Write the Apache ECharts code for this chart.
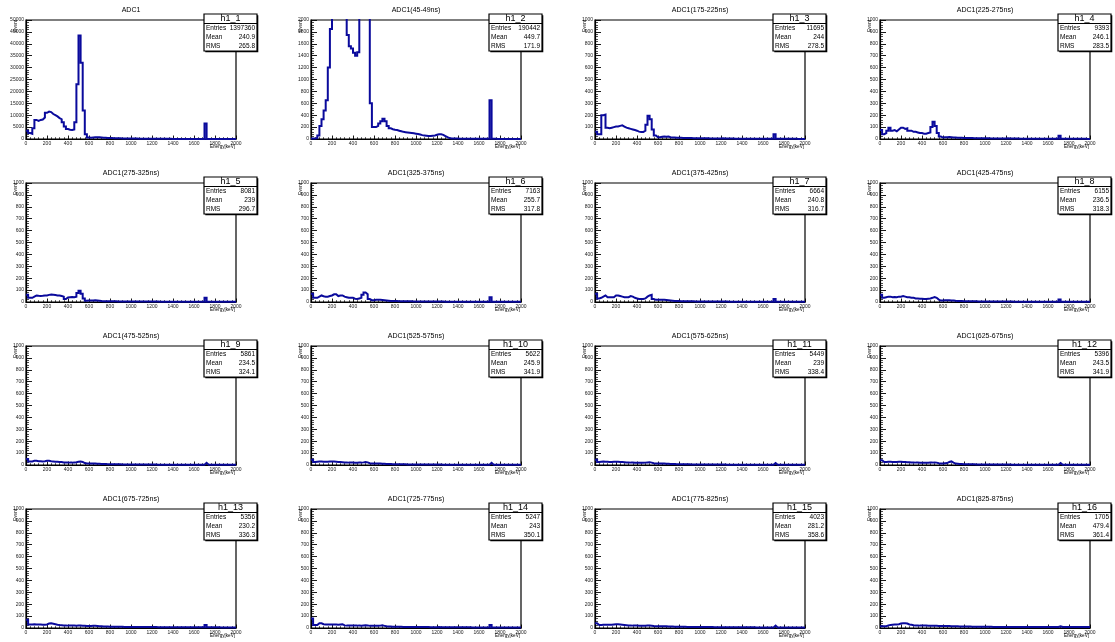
<!DOCTYPE html>
<html>
<head>
<meta charset="utf-8">
<script src="https://cdn.jsdelivr.net/npm/echarts@6/dist/echarts.min.js"></script>
<style>
  html, body { margin: 0; padding: 0; background: #fff; }
  #c { width: 1115px; height: 642px; }
</style>
</head>
<body>
<div id="c"></div>
<script>
// Energy spectra of ADC1 in successive time windows, 20 keV bins from 0 to 2000 keV.
const binWidth = 20;
const xMax = 2000;

const titles = [
  'ADC1', 'ADC1(45-49ns)', 'ADC1(175-225ns)', 'ADC1(225-275ns)',
  'ADC1(275-325ns)', 'ADC1(325-375ns)', 'ADC1(375-425ns)', 'ADC1(425-475ns)',
  'ADC1(475-525ns)', 'ADC1(525-575ns)', 'ADC1(575-625ns)', 'ADC1(625-675ns)',
  'ADC1(675-725ns)', 'ADC1(725-775ns)', 'ADC1(775-825ns)', 'ADC1(825-875ns)'
];
const histNames = ['h1_1','h1_2','h1_3','h1_4','h1_5','h1_6','h1_7','h1_8',
                   'h1_9','h1_10','h1_11','h1_12','h1_13','h1_14','h1_15','h1_16'];
const entries = ['1397360','190442','11695','9393','8081','7163','6664','6155',
                 '5861','5622','5449','5396','5356','5247','4023','1705'];
const means = ['240.9','449.7','244','246.1','239','255.7','240.8','236.5',
               '234.5','245.9','239','243.5','230.2','243','281.2','479.4'];
const rmsValues = ['265.8','171.9','278.5','283.5','296.7','317.8','316.7','318.3',
                   '324.1','341.9','338.4','341.9','336.3','350.1','358.6','361.4'];
const yMax = [50000, 2000, 1000, 1000, 1000, 1000, 1000, 1000,
              1000, 1000, 1000, 1000, 1000, 1000, 1000, 1000];

const h1_1 = [3500,2500,2200,4500,8000,7600,8000,8200,9000,11000,
  11500,11300,10500,10000,9500,8800,8300,7000,5200,4200,
  3900,3800,4000,7000,23000,43500,32000,12000,2000,600,
  500,600,700,750,700,650,550,500,450,400,
  380,350,320,300,280,260,240,220,200,190,
  180,170,160,150,140,140,130,130,120,120,
  130,140,130,110,90,80,70,60,55,50,
  45,45,40,40,38,35,35,32,30,30,
  28,28,25,25,25,6500,20,20,18,18,
  16,16,15,15,14,14,12,12,10,10];
const h1_2 = [10,10,15,60,220,330,480,650,1200,1850,
  5000,9000,12000,14000,15000,14000,11000,1750,1560,1520,
  1450,1400,1460,2600,6000,9000,6000,3000,600,200,
  200,220,260,300,340,300,220,180,165,155,
  150,140,130,120,115,110,105,100,95,90,
  85,75,65,60,55,50,50,55,60,70,
  80,80,70,50,30,15,10,8,8,7,
  6,6,5,5,5,4,4,4,3,3,
  3,3,3,3,3,650,3,3,2,2,
  2,2,2,2,2,2,2,2,2,2];
const h1_3 = [60,40,40,200,205,95,90,95,100,105,
  105,110,115,105,95,90,85,80,75,70,
  62,58,58,70,120,195,165,80,30,15,
  15,18,20,18,20,15,12,12,10,10,
  10,9,9,8,8,8,7,7,7,6,
  6,6,6,6,5,5,5,5,5,5,
  6,5,5,4,4,4,3,3,3,3,
  3,3,3,3,3,2,2,2,2,2,
  2,2,2,2,2,40,2,2,2,2,
  2,2,2,2,2,2,1,1,1,1];
const h1_4 = [75,40,50,70,95,70,75,65,80,95,
  95,85,90,70,70,60,60,55,50,50,
  45,45,50,55,100,145,110,50,20,12,
  15,15,16,14,12,12,10,10,10,9,
  9,8,8,8,7,7,7,6,6,6,
  6,6,5,5,5,5,5,5,5,5,
  6,5,5,4,4,4,3,3,3,3,
  3,3,3,3,3,3,3,2,2,2,
  2,2,2,2,2,28,2,2,2,2,
  2,2,2,2,2,2,2,2,1,1];
const h1_5 = [60,35,35,45,55,52,50,52,55,55,
  60,62,60,58,55,55,50,45,25,38,
  40,42,40,45,75,95,70,30,10,12,
  12,12,14,12,10,8,7,7,6,6,
  6,6,6,5,5,5,5,5,5,5,
  4,4,4,4,4,4,4,4,4,4,
  5,4,4,3,3,3,3,3,3,3,
  3,3,3,3,2,2,2,2,2,2,
  2,2,2,2,2,35,2,2,2,2,
  2,2,2,2,2,2,2,2,2,2];
const h1_6 = [70,35,35,45,55,48,45,45,50,55,
  65,65,50,55,55,45,40,35,35,35,
  28,25,30,35,60,80,65,25,15,15,
  18,18,18,16,14,12,10,8,8,8,
  8,7,7,7,6,6,6,6,5,5,
  5,5,5,5,5,5,5,5,5,5,
  5,4,4,3,3,3,3,3,3,3,
  3,3,3,3,3,3,3,2,2,2,
  2,2,2,2,2,40,2,2,2,2,
  2,2,2,2,2,2,2,2,2,2];
const h1_7 = [70,30,35,45,55,40,40,40,40,55,
  55,50,45,40,40,40,50,45,35,30,
  25,25,25,30,45,55,60,25,18,18,
  18,18,18,16,14,12,10,8,8,8,
  7,7,7,6,6,6,6,5,5,5,
  5,5,5,5,4,4,4,4,4,4,
  4,4,4,3,3,3,3,3,3,3,
  3,3,3,3,3,3,3,2,2,2,
  2,2,2,2,2,25,2,2,2,2,
  2,2,2,2,2,2,2,2,2,2];
const h1_8 = [60,35,40,45,45,40,42,40,45,45,
  50,45,40,40,35,35,30,30,28,28,
  25,25,28,30,35,42,35,20,12,12,
  14,14,14,12,12,10,9,8,8,7,
  7,7,6,6,6,6,5,5,5,5,
  5,5,5,4,4,4,4,4,4,4,
  4,4,4,3,3,3,3,3,3,3,
  3,3,3,2,2,2,2,2,2,2,
  2,2,2,2,2,20,2,2,2,2,
  2,2,2,2,2,2,2,2,2,2];
const h1_9 = [50,30,30,35,35,32,32,30,32,35,
  35,32,30,28,28,25,25,22,22,22,
  20,20,22,24,28,30,26,16,12,12,
  12,12,12,11,10,9,8,8,7,7,
  7,6,6,6,6,5,5,5,5,5,
  5,5,4,4,4,4,4,4,4,4,
  4,4,3,3,3,3,3,3,3,3,
  3,3,2,2,2,2,2,2,2,2,
  2,2,2,2,2,18,2,2,2,2,
  2,2,2,2,2,2,2,2,2,2];
const h1_10 = [45,25,28,30,30,28,28,28,30,30,
  30,28,26,25,24,22,22,20,20,20,
  18,18,20,20,22,25,22,15,12,12,
  12,12,12,11,10,9,8,8,7,7,
  7,6,6,6,6,5,5,5,5,5,
  5,5,4,4,4,4,4,4,4,4,
  4,4,3,3,3,3,3,3,3,3,
  3,3,2,2,2,2,2,2,2,2,
  2,2,2,2,2,18,2,2,2,2,
  2,2,2,2,2,2,2,2,2,2];
const h1_11 = [45,25,28,30,28,28,26,26,28,28,
  28,26,25,24,22,22,20,20,18,18,
  18,18,18,20,22,24,20,15,12,12,
  12,12,12,11,10,9,8,8,7,7,
  7,6,6,6,6,5,5,5,5,5,
  5,5,4,4,4,4,4,4,4,4,
  4,4,3,3,3,3,3,3,3,3,
  3,3,2,2,2,2,2,2,2,2,
  2,2,2,2,2,16,2,2,2,2,
  2,2,2,2,2,2,2,2,2,2];
const h1_12 = [40,25,26,28,28,26,26,26,28,28,
  26,25,24,24,22,22,20,20,18,18,
  18,18,18,20,20,22,20,15,12,12,
  14,16,26,30,20,12,10,8,8,7,
  7,6,6,6,6,5,5,5,5,5,
  5,5,4,4,4,4,4,4,4,4,
  4,4,3,3,3,3,3,3,3,3,
  3,3,2,2,2,2,2,2,2,2,
  2,2,2,2,2,16,2,2,2,2,
  2,2,2,2,2,2,2,2,2,2];
const h1_13 = [70,30,30,32,30,30,30,28,28,30,
  38,40,36,32,28,25,24,22,22,20,
  20,20,20,18,20,20,18,18,16,16,
  16,18,18,16,14,14,12,12,12,11,
  11,10,10,10,10,10,9,9,9,9,
  9,9,8,8,8,8,8,8,8,8,
  8,8,7,7,7,7,7,7,6,6,
  6,6,6,6,6,6,6,6,6,6,
  6,6,6,6,6,25,6,6,6,6,
  6,6,5,5,5,5,5,5,5,5];
const h1_14 = [80,25,25,40,40,32,30,30,30,30,
  30,30,28,30,32,22,20,20,20,20,
  20,20,22,20,22,24,22,18,18,18,
  18,18,20,22,18,14,12,12,11,10,
  10,10,10,9,9,9,9,8,8,8,
  8,8,8,8,8,8,7,7,7,7,
  8,7,7,6,6,6,6,6,6,6,
  6,6,6,6,6,6,5,5,5,5,
  5,5,5,5,5,25,5,5,5,5,
  5,5,5,5,5,5,5,5,5,5];
const h1_15 = [40,25,26,28,28,28,28,28,30,32,
  32,30,28,26,24,22,22,20,20,20,
  18,18,18,18,20,20,18,16,15,15,
  15,15,15,14,13,12,12,11,11,10,
  10,10,10,9,9,9,9,8,8,8,
  8,8,8,8,8,8,7,7,7,7,
  7,7,7,6,6,6,6,6,6,6,
  6,6,6,6,6,6,5,5,5,5,
  5,5,5,5,5,20,5,5,5,5,
  5,5,5,5,5,5,5,5,5,5];
const h1_16 = [15,15,15,22,25,28,30,30,32,38,
  40,40,38,30,28,24,22,22,20,20,
  20,20,18,18,18,18,18,17,17,16,
  16,16,16,15,15,14,14,13,13,12,
  12,12,12,11,11,11,10,10,10,10,
  10,10,10,9,9,9,9,9,9,9,
  9,9,9,8,8,8,8,8,8,8,
  8,8,8,8,8,8,8,8,8,8,
  8,8,8,8,8,15,8,8,8,8,
  8,8,8,8,8,8,8,8,8,8];

const hists = [h1_1,h1_2,h1_3,h1_4,h1_5,h1_6,h1_7,h1_8,
               h1_9,h1_10,h1_11,h1_12,h1_13,h1_14,h1_15,h1_16];

// pad layout (pixels)
const colLeft = [26, 311, 595, 880];
const rowTop = [20, 183, 346, 509];
const FW = 210, FH = 119;
const FONT = 'Liberation Sans, Arial, Helvetica, sans-serif';
const lineColor = '#0a0a9c';

const grids = [], xAxes = [], yAxes = [], series = [], graphics = [];
const plainNumber = v => String(v);

function txt(x, y, text, size, align, vAlign, extra) {
  return Object.assign({
    type: 'text', x: x, y: y, z: 100, silent: true,
    style: {
      text: text, font: size + 'px ' + FONT, fill: '#000',
      align: align, verticalAlign: vAlign,
      textAlign: align, textVerticalAlign: vAlign
    }
  }, extra || {});
}

hists.forEach((h, i) => {
  const r = Math.floor(i / 4), c = i % 4;
  const L = colLeft[c], T = rowTop[r], R = L + FW, B = T + FH;

  grids.push({ left: L, top: T, width: FW, height: FH, show: true,
    borderColor: '#000', borderWidth: 1.2, backgroundColor: '#fff' });

  xAxes.push({
    gridIndex: i, type: 'value', min: 0, max: xMax, interval: 200,
    axisLine: { onZero: false, lineStyle: { color: '#000', width: 1.2 } },
    axisTick: { inside: true, length: 3.5, lineStyle: { color: '#000', width: 0.9 } },
    minorTick: { show: true, splitNumber: 5, length: 1.8, lineStyle: { color: '#000', width: 0.7 } },
    axisLabel: { fontSize: 5, color: '#222', margin: 2.5, fontFamily: FONT, formatter: plainNumber },
    splitLine: { show: false }
  });

  yAxes.push({
    gridIndex: i, type: 'value', min: 0, max: yMax[i], interval: yMax[i] / 10,
    axisLine: { onZero: false, lineStyle: { color: '#000', width: 1.2 } },
    axisTick: { inside: true, length: 6, lineStyle: { color: '#000', width: 0.9 } },
    minorTick: { show: true, splitNumber: 5, length: 3, lineStyle: { color: '#000', width: 0.7 } },
    axisLabel: { fontSize: 5, color: '#222', margin: 2, fontFamily: FONT, formatter: plainNumber },
    splitLine: { show: false }
  });

  // step outline: each bin starts at its lower edge, closed at the upper range limit
  const pts = h.map((v, k) => [k * binWidth, v]);
  pts.push([xMax, h[h.length - 1]]);
  series.push({
    type: 'line', xAxisIndex: i, yAxisIndex: i, step: 'end', symbol: 'none',
    data: pts, clip: true, animation: false,
    lineStyle: { color: lineColor, width: 2, join: 'miter' }
  });

  // pad title
  graphics.push(txt(L + FW / 2, T - 10, titles[i], 7, 'center', 'middle'));

  // axis titles
  graphics.push(txt(R - 1, B + 8, 'Energy[keV]', 4.6, 'right', 'middle'));
  graphics.push(txt(L - 10.5, T, 'Event', 4.6, 'right', 'middle', { rotation: Math.PI / 2 }));

  // statistics box
  const bw = 53, bh = 37, bx = R - 32, by = T - 6;
  graphics.push({ type: 'rect', z: 99, silent: true,
    shape: { x: bx + 1.3, y: by + 1.3, width: bw, height: bh }, style: { fill: '#000' } });
  graphics.push({ type: 'rect', z: 99, silent: true,
    shape: { x: bx, y: by, width: bw, height: bh },
    style: { fill: '#fff', stroke: '#000', lineWidth: 1.2 } });
  graphics.push({ type: 'line', z: 100, silent: true,
    shape: { x1: bx, y1: by + 9.5, x2: bx + bw, y2: by + 9.5 },
    style: { stroke: '#000', lineWidth: 1 } });
  graphics.push(txt(bx + bw / 2, by + 5, histNames[i], 9, 'center', 'middle'));
  const rows = [['Entries', entries[i]], ['Mean', means[i]], ['RMS', rmsValues[i]]];
  rows.forEach((row, k) => {
    const yy = by + 14 + k * 9;
    graphics.push(txt(bx + 2, yy, row[0], 6.5, 'left', 'middle'));
    graphics.push(txt(bx + bw - 2, yy, row[1], 6.5, 'right', 'middle'));
  });
});

const chart = echarts.init(document.getElementById('c'), null, { renderer: 'canvas' });
chart.setOption({
  animation: false,
  backgroundColor: '#fff',
  grid: grids,
  xAxis: xAxes,
  yAxis: yAxes,
  series: series,
  graphic: { elements: graphics }
});
</script>
</body>
</html>
